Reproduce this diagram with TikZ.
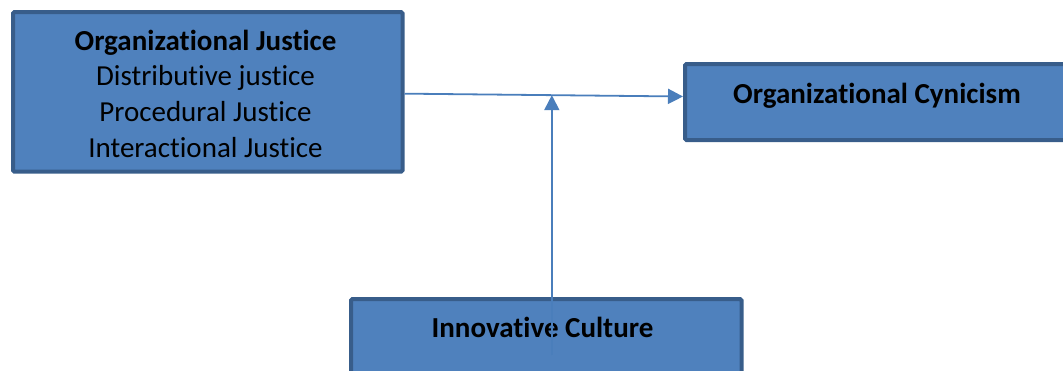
\documentclass[tikz,border=0pt]{standalone}
\usepackage{fontspec}
\setmainfont{Carlito}[Ligatures={NoCommon,NoContextual,NoRare}, Contextuals={NoAlternate}]
\usetikzlibrary{arrows.meta}
\definecolor{boxfill}{HTML}{4F81BD}
\definecolor{boxline}{HTML}{385D8A}
\definecolor{linkblue}{HTML}{4A7EBB}
\begin{document}
\begin{tikzpicture}[x=1pt,y=-1pt,
  box/.style={draw=boxline, fill=boxfill, line width=4pt, rounded corners=1.5pt,
    rectangle, inner sep=0pt, anchor=north west},
  label/.style={font=\fontsize{29}{36}\selectfont, text=black, inner sep=0pt, anchor=base},
  link/.style={draw=linkblue, line width=1.8pt,
    -{Triangle[length=15pt,width=15pt]}}]
\useasboundingbox (0,0) rectangle (1063,370);
\clip (0,0) rectangle (1063,370);
% boxes
\node[box, minimum width=389.5pt, minimum height=159.7pt] (oj) at (11,10) {};
\node[box, minimum width=388pt, minimum height=76pt] (oc) at (683,62) {};
\node[box, minimum width=390.5pt, minimum height=100pt] (ic) at (349,297) {};
% texts
\node[label, font=\fontsize{29}{36}\selectfont\bfseries] (ojt) at (205.5,50) {Organizational Justice};
\node[label] (oj1) at (205.5,85.5) {Distributive justice};
\node[label] (oj2) at (205.5,121.5) {Procedural Justice};
\node[label] (oj3) at (205.5,157) {Interactional Justice};
\node[label, font=\fontsize{29}{36}\selectfont\bfseries] (oct) at (877,103) {Organizational Cynicism};
\node[label, font=\fontsize{29}{36}\selectfont\bfseries] (ict) at (542.5,337) {Innovative Culture};
% connectors
\coordinate (src) at ([yshift=-1.8pt]oj.east);
\coordinate (dst) at ([yshift=5.5pt]oc.west);
\draw[link] (src) -- (dst);
\path (src) -- (dst) coordinate[pos=0.529] (mid);
\coordinate (tail) at (mid |- 0,355);
\draw[link] (tail) -- (mid);
\end{tikzpicture}
\end{document}
